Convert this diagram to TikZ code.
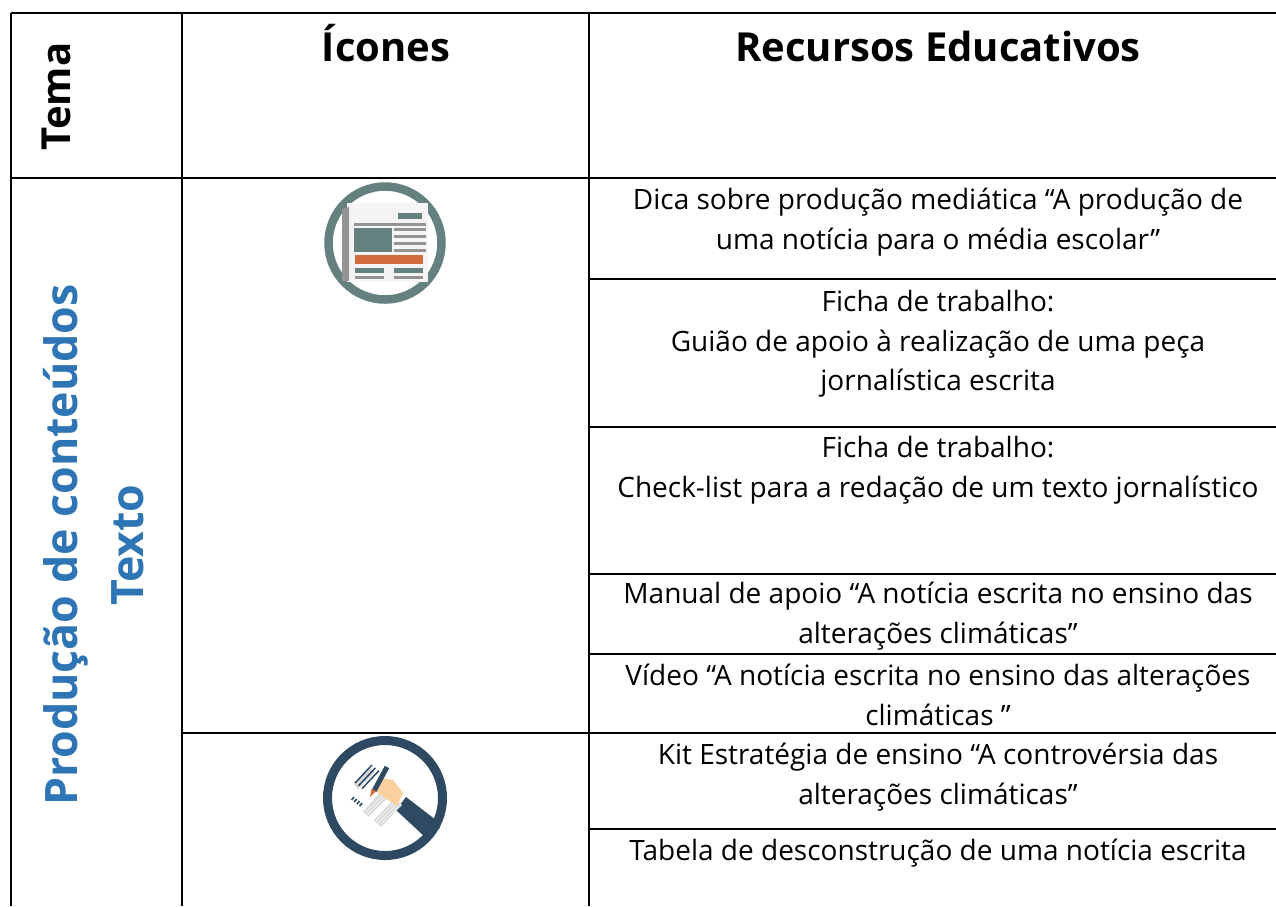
\documentclass[tikz,border=0pt]{standalone}
\usepackage{fontspec}
\setmainfont{Open Sans}
\definecolor{teal1}{HTML}{64807F}
\definecolor{navy1}{HTML}{2E4A63}
\definecolor{orange1}{HTML}{D26B3C}
\definecolor{gray1}{HTML}{949494}
\definecolor{paper1}{HTML}{F6F4F5}
\definecolor{skin1}{HTML}{FBD09E}
\definecolor{sheet1}{HTML}{D9D9D9}
\definecolor{blue1}{HTML}{2E75B6}
\tikzset{
  grid/.style={line width=2.4pt,black},
  body/.style={font=\fontsize{28}{39.5}\selectfont,align=center,inner sep=0pt,anchor=center},
  head/.style={font=\fontsize{40}{50}\selectfont\bfseries,inner sep=0pt,anchor=center},
  side/.style={font=\fontsize{44.7}{66}\selectfont\bfseries,text=blue1,align=center,inner sep=0pt,rotate=90,anchor=center}
}
\begin{document}
\begin{tikzpicture}[x=1pt,y=-1pt]
\useasboundingbox (0,0) rectangle (1276,906);
% grid
\draw[grid] (11,13) -- (1276,13);
\draw[grid] (11,178) -- (1276,178);
\draw[grid] (11,13) -- (11,906);
\draw[grid] (182,13) -- (182,906);
\draw[grid] (589,13) -- (589,906);
\draw[grid] (589,279) -- (1276,279);
\draw[grid] (589,427) -- (1276,427);
\draw[grid] (589,574) -- (1276,574);
\draw[grid] (589,654) -- (1276,654);
\draw[grid] (182,733) -- (1276,733);
\draw[grid] (589,829) -- (1276,829);
% heads
\node[head,rotate=90] (t) at (56,96.5) {Tema};
\node[head] (i) at (386,43) {Ícones};
\node[head] (r) at (938,46) {Recursos Educativos};
\node[side] (p) at (94,545) {Produção de conteúdos\\Texto};
% body
\node[body] (b1) at (938,222) {Dica sobre produção mediática “A produção de\\uma notícia para o média escolar”};
\node[body] (b2) at (938,344) {Ficha de trabalho:\\Guião de apoio à realização de uma peça\\jornalística escrita};
\node[body] (b3) at (938,470) {Ficha de trabalho:\\Check-list para a redação de um texto jornalístico};
\node[body] (b4) at (938,616) {Manual de apoio “A notícia escrita no ensino das\\alterações climáticas”};
\node[body] (b5) at (938,695) {Vídeo “A notícia escrita no ensino das alterações\\climáticas ”};
\node[body] (b6) at (938,777) {Kit Estratégia de ensino “A controvérsia das\\alterações climáticas”};
\node[body] (b7) at (938,853) {Tabela de desconstrução de uma notícia escrita};
% icon 1
\draw[teal1,line width=8.5pt] (385,243) circle (56.5);
\fill[paper1] (347,203) -- (428,203) -- (428,282) -- (347,282) -- cycle;
\fill[gray1] (342,209) -- (349,207) -- (349,281) -- (342,281) -- cycle;
\fill[teal1] (398,213) rectangle (422,219);
\fill[gray1] (354,223) rectangle (426,226);
\fill[teal1] (354,228) rectangle (392,252);
\foreach \y in {228,235,242,249}{\fill[gray1] (394,\y) rectangle (426,\y+2.5);}
\fill[orange1] (355,255) rectangle (423,264);
\fill[teal1] (355,268) rectangle (384,273);
\fill[teal1] (394,268) rectangle (423,273);
\fill[gray1] (355,276) rectangle (384,278.5);
\fill[gray1] (394,276) rectangle (423,278.5);
% icon 2
\draw[navy1,line width=9pt] (385,798) circle (57.5);
\fill[navy1] (406,797) -- (436,820) -- (440,828) -- (425,837) -- (396,810) -- cycle;
\fill[sheet1] (354,784) -- (358,789) -- (375,772) -- (371,768) -- cycle;
\fill[sheet1] (363,812) -- (369,817) -- (389,797) -- (382,790) -- cycle;
\fill[sheet1] (374,820) -- (381,827) -- (402,805) -- (395,798) -- cycle;
\fill[sheet1] (378,778) -- (388,790) -- (391,787) -- (381,775) -- cycle;
\foreach \d in {0,2,4}{\draw[white,line width=.5pt] (365+\d,813+\d) -- (385+\d,793+\d);}
\foreach \d in {0,2,4}{\draw[white,line width=.5pt] (376+\d,821+\d) -- (397+\d,800+\d);}
\foreach \d in {0,3.5,7}{\draw[navy1,line width=1.5pt] (355+\d,783+\d*.8) -- (372+\d,765+\d*.8);}
\foreach \d in {0,2.7,5.4,8.1}{\draw[navy1,line width=1.6pt] (351.5+\d,800+\d*.75) -- (354+\d,797+\d*.75);}
\fill[skin1] (381,778) -- (393,780) -- (403,793) -- (397,806) -- (390,801) -- (378,793) -- (373,787) -- cycle;
\draw[navy1,line width=5pt] (387,767) -- (374,791);
\fill[orange1] (376,791) -- (370,797) -- (371.5,789) -- cycle;
\end{tikzpicture}
\end{document}
